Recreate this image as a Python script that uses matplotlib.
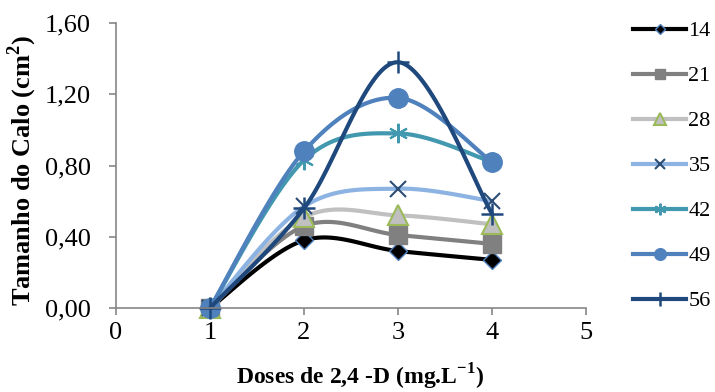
import matplotlib.pyplot as plt
import numpy as np

doses = [1, 2, 3, 4]
series_labels = ["14", "21", "28", "35", "42", "49", "56"]
v14 = [0.00, 0.38, 0.32, 0.27]
v21 = [0.00, 0.46, 0.41, 0.36]
v28 = [0.00, 0.51, 0.52, 0.47]
v35 = [0.00, 0.57, 0.67, 0.60]
v42 = [0.00, 0.83, 0.98, 0.82]
v49 = [0.00, 0.88, 1.18, 0.82]
v56 = [0.00, 0.56, 1.38, 0.53]
y_ticks = [0.0, 0.4, 0.8, 1.2, 1.6]
y_tick_labels = ["0,00", "0,40", "0,80", "1,20", "1,60"]

styles = [
    dict(color="#000000", marker="D", ms=9, mfc="#000000", mec="#4f81bd", mew=1),
    dict(color="#808080", marker="s", ms=13, mfc="#808080", mec="#808080", mew=1),
    dict(color="#c0c0c0", marker="^", ms=14, mfc="#c0c0c0", mec="#9bbb59", mew=1.5),
    dict(color="#8db3e2", marker="x", ms=12, mfc="none", mec="#2c4d75", mew=1.5),
    dict(color="#4198af", marker=(6, 2, 0), ms=14, mfc="none", mec="#4198af", mew=1.5),
    dict(color="#4f81bd", marker="o", ms=14, mfc="#4f81bd", mec="#4f81bd", mew=1),
    dict(color="#1f497d", marker="+", ms=16, mfc="none", mec="#1f497d", mew=1.8),
]


def smooth(xs, ys, n=40):
    # Excel-style smoothed line (Catmull-Rom through the points)
    xs = np.asarray(xs, float)
    ys = np.asarray(ys, float)
    px = np.concatenate([[xs[0]], xs, [xs[-1]]])
    py = np.concatenate([[ys[0]], ys, [ys[-1]]])
    out_x, out_y = [], []
    t = np.linspace(0, 1, n)
    for i in range(1, len(px) - 2):
        p0, p1, p2, p3 = [np.array([px[j], py[j]]) for j in (i - 1, i, i + 1, i + 2)]
        c1 = p1 + (p2 - p0) / 6
        c2 = p2 - (p3 - p1) / 6
        pts = ((1 - t) ** 3)[:, None] * p1 + (3 * (1 - t) ** 2 * t)[:, None] * c1 \
            + (3 * (1 - t) * t ** 2)[:, None] * c2 + (t ** 3)[:, None] * p2
        out_x.extend(pts[:, 0])
        out_y.extend(pts[:, 1])
    return out_x, out_y


plt.rcParams["font.family"] = ["Liberation Serif", "DejaVu Serif"]
plt.rcParams["mathtext.fontset"] = "custom"
plt.rcParams["mathtext.rm"] = "Liberation Serif"
plt.rcParams["mathtext.bf"] = "Liberation Serif:bold"

fig = plt.figure(figsize=(7.15, 3.92), dpi=100)
ax = fig.add_axes([116 / 715, 1 - 308 / 392, 470 / 715, 285 / 392])

all_values = [v14, v21, v28, v35, v42, v49, v56]
handles = []
for label, values, st in zip(series_labels, all_values, styles):
    sx, sy = smooth(doses, values)
    ax.plot(sx, sy, color=st["color"], lw=3, solid_capstyle="round", clip_on=False)
    ax.plot(doses, values, ls="none", marker=st["marker"], ms=st["ms"],
            mfc=st["mfc"], mec=st["mec"], mew=st["mew"], clip_on=False)
    h, = plt.plot([], [], color=st["color"], lw=3, marker=st["marker"],
                  ms=st["ms"] * 0.6, mfc=st["mfc"], mec=st["mec"], mew=st["mew"])
    handles.append(h)

ax.set_xlim(0, 5)
ax.set_ylim(0, 1.6)
ax.set_xticks([0, 1, 2, 3, 4, 5])
ax.set_yticks(y_ticks)
ax.set_yticklabels(y_tick_labels)
ax.tick_params(axis="both", labelsize=19, color="#868686", length=5, width=1.2)
ax.tick_params(axis="x", pad=5)
ax.tick_params(axis="y", pad=13)
for side in ("top", "right"):
    ax.spines[side].set_visible(False)
for side in ("left", "bottom"):
    ax.spines[side].set_color("#868686")
    ax.spines[side].set_linewidth(1.2)

ax.set_xlabel("Doses de 2,4 -D (mg.L$^{\\mathbf{-1}}$)", fontsize=17, fontweight="bold")
ax.xaxis.set_label_coords(0.519, -0.19)
ax.set_ylabel("Tamanho do Calo (cm$^{\\mathbf{2}}$)", fontsize=19, fontweight="bold")
ax.yaxis.set_label_coords(-0.163, 0.484)

fig.legend(handles, series_labels, loc="upper left", bbox_to_anchor=(624 / 715, 1 - 12 / 392),
           frameon=False, fontsize=16, handlelength=2.4, handletextpad=0.1,
           labelspacing=1.1, borderaxespad=0)

fig.savefig("out.png", dpi=100)
